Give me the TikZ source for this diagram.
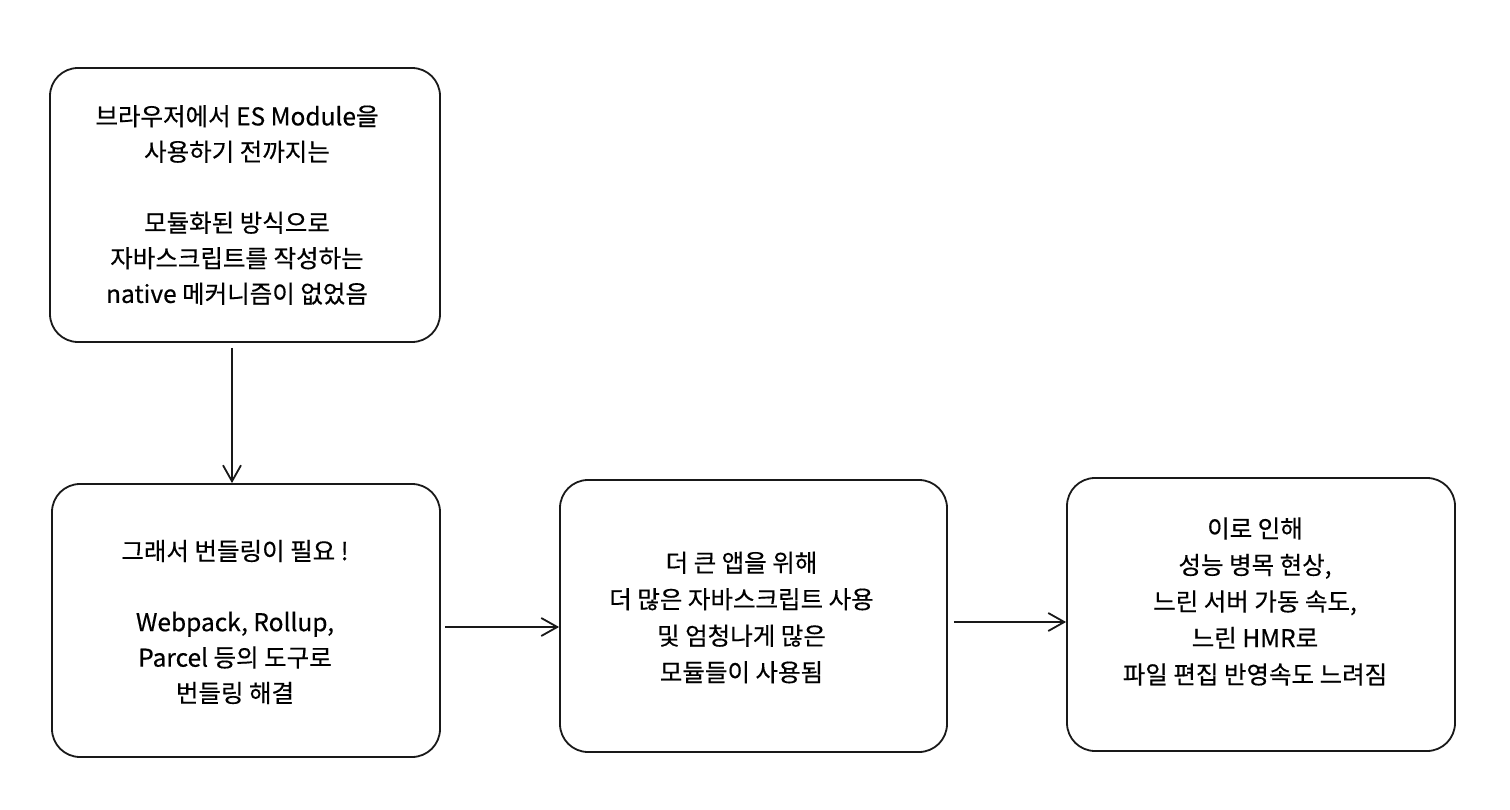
\documentclass[tikz,border=0pt]{standalone}
\usepackage{fontspec}
\setmainfont{Noto Sans CJK KR}[FakeBold=0.4]
\usetikzlibrary{arrows.meta}
\begin{document}
\begin{tikzpicture}[x=1pt,y=-1pt,
  box/.style={draw=black!90, line width=1.8pt, rounded corners=28pt, inner sep=0pt},
  txt/.style={align=center, inner sep=0pt, font=\fontsize{24.5}{36.5}\selectfont},
  txtb/.style={align=center, inner sep=0pt, font=\fontsize{24.5}{35.5}\selectfont},
  arr/.style={line width=1.8pt, draw=black!90, -{Straight Barb[length=16pt,width=18pt,line width=1.8pt]}}]
\useasboundingbox (0,0) rectangle (1510,810);
\node[box, minimum width=390pt, minimum height=274pt] (A) at (245,205) {};
\node[box, minimum width=388pt, minimum height=273pt] (B) at (246,620.5) {};
\node[box, minimum width=387pt, minimum height=272pt] (C) at (753.5,616) {};
\node[box, minimum width=388pt, minimum height=273pt] (D) at (1261,614.5) {};
\node[txtb] (tA) at (237,205) {브라우저에서 ES Module을\\사용하기 전까지는\\[35.5pt]모듈화된 방식으로\\자바스크립트를 작성하는\\native 메커니즘이 없었음};
\node[txtb] (tB) at (235,622) {그래서 번들링이 필요 !\\[35.5pt]Webpack, Rollup,\\Parcel 등의 도구로\\번들링 해결};
\node[txt] (tC) at (741.5,617.5) {더 큰 앱을 위해\\더 많은 자바스크립트 사용\\및 엄청나게 많은\\모듈들이 사용됨};
\node[txt] (tD) at (1255,601.5) {이로 인해\\성능 병목 현상,\\느린 서버 가동 속도,\\느린 HMR로\\파일 편집 반영속도 느려짐};
\draw[arr, shorten <=5pt] ([xshift=-13pt]A.south) -- ([xshift=-14pt]B.north);
\draw[arr, shorten <=4pt] ([yshift=-6.5pt]B.east) -- ([yshift=-11pt]C.west);
\draw[arr, shorten <=6pt] ([yshift=-6pt]C.east) -- ([yshift=-7.5pt]D.west);
\end{tikzpicture}
\end{document}
